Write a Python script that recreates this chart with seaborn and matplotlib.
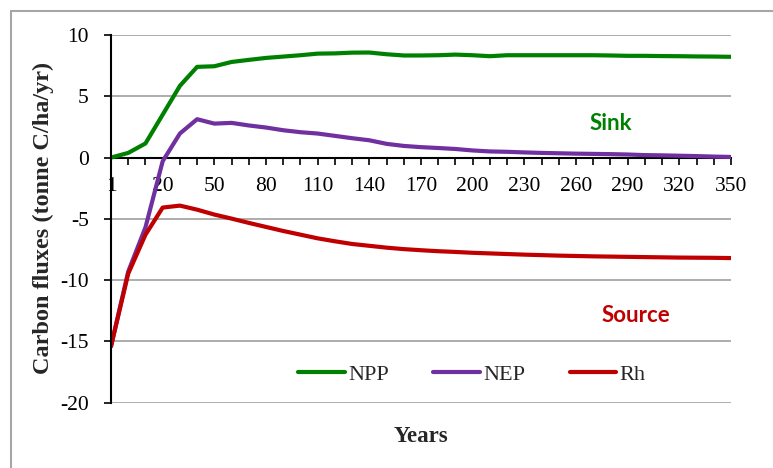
import numpy as np
import pandas as pd
import matplotlib
matplotlib.use("Agg")
import matplotlib.pyplot as plt
from matplotlib.patches import Rectangle
from matplotlib.ticker import FixedLocator, FixedFormatter
import seaborn as sns

years = [1, 5, 10, 20, 30, 40, 50, 60, 70, 80, 90, 100, 110, 120, 130, 140, 150,
         160, 170, 180, 190, 200, 210, 220, 230, 240, 250, 260, 270, 280, 290,
         300, 310, 320, 330, 340, 350]
npp = [0.0, 0.38, 1.15, 3.5, 5.85, 7.4, 7.45, 7.8, 7.97, 8.13, 8.24, 8.35, 8.48,
       8.5, 8.56, 8.57, 8.43, 8.33, 8.33, 8.35, 8.4, 8.35, 8.27, 8.35, 8.35,
       8.35, 8.35, 8.35, 8.35, 8.33, 8.3, 8.3, 8.28, 8.27, 8.25, 8.24, 8.22]
nep = [-15.4, -9.3, -5.7, -0.3, 1.96, 3.13, 2.77, 2.83, 2.62, 2.45, 2.23, 2.07,
       1.96, 1.77, 1.58, 1.41, 1.12, 0.95, 0.85, 0.78, 0.7, 0.58, 0.5, 0.47,
       0.42, 0.38, 0.35, 0.32, 0.3, 0.28, 0.25, 0.2, 0.18, 0.15, 0.12, 0.08, 0.05]
rh = [-15.4, -9.47, -6.3, -4.08, -3.92, -4.25, -4.65, -4.98, -5.33, -5.66, -5.99,
      -6.29, -6.59, -6.83, -7.05, -7.2, -7.35, -7.47, -7.56, -7.64, -7.7, -7.77,
      -7.82, -7.87, -7.92, -7.96, -8.0, -8.03, -8.06, -8.08, -8.1, -8.12, -8.14,
      -8.16, -8.17, -8.18, -8.2]
series_names = ["NPP", "NEP", "Rh"]
colors = {"NPP": "#008000", "NEP": "#7030A0", "Rh": "#C00000"}
y_ticks = [-20, -15, -10, -5, 0, 5, 10]

pos = list(range(len(years)))
df = pd.concat([
    pd.DataFrame({"pos": pos, "value": vals, "series": name})
    for name, vals in zip(series_names, [npp, nep, rh])
], ignore_index=True)

sns.set_style("white")
plt.rcParams["font.family"] = ["Liberation Serif", "DejaVu Serif"]

W, H = 773, 468
fig = plt.figure(figsize=(W / 100, H / 100), dpi=100)
ax = fig.add_axes([111 / W, 1 - 402.7 / H, (731 - 111) / W, (402.7 - 35) / H])

sns.lineplot(data=df, x="pos", y="value", hue="series", hue_order=series_names,
             palette=colors, linewidth=3.0, ax=ax, legend=False, sort=False)
for ln in ax.lines:
    ln.set_solid_capstyle("round")
    ln.set_solid_joinstyle("round")

ax.set_xlim(0, len(years) - 1)
ax.set_ylim(-20, 10)

# spines
for s in ["top", "right"]:
    ax.spines[s].set_visible(False)
ax.spines["bottom"].set_position(("data", 0))
ax.spines["bottom"].set_color("black")
ax.spines["bottom"].set_linewidth(1.5)
ax.spines["left"].set_color("black")
ax.spines["left"].set_linewidth(1.5)
ax.spines["bottom"].set_zorder(1.5)

# grid
ax.set_yticks(y_ticks)
ax.set_yticklabels([str(v) for v in y_ticks])
ax.yaxis.grid(True, color="#A0A0A0", linewidth=1.2)
ax.xaxis.grid(False)
ax.set_axisbelow(True)

# x ticks
major = pos[::3]
ax.xaxis.set_major_locator(FixedLocator(major))
ax.xaxis.set_major_formatter(FixedFormatter([str(years[i]) for i in major]))
ax.xaxis.set_minor_locator(FixedLocator(pos))
ax.tick_params(axis="x", which="both", direction="out", length=5, width=1.2,
               colors="black", bottom=True)
ax.tick_params(axis="x", which="major", labelsize=15.5, pad=9)
ax.tick_params(axis="y", direction="out", length=5, width=1.2, colors="black",
               labelsize=15.5, pad=11, left=True)

ax.set_xlabel("")
ax.set_ylabel("")
fig.text(43 / W, 1 - 218 / H, "Carbon fluxes (tonne C/ha/yr)", rotation=90,
         ha="center", va="center", fontsize=17.5, fontweight="bold")
fig.text(421 / W, 1 - 436 / H, "Years", ha="center", va="center",
         fontsize=16.5, fontweight="bold")

# annotations
ax.text(29.0, 2.82, "Sink", color="#008000", fontsize=16, fontweight="bold",
        family=["Lato", "DejaVu Sans"], ha="center", va="center")
ax.text(30.5, -12.87, "Source", color="#C00000", fontsize=16, fontweight="bold",
        family=["Lato", "DejaVu Sans"], ha="center", va="center")

# legend
handles = [plt.Line2D([], [], color=colors[n], lw=3, solid_capstyle="round")
           for n in series_names]
leg = ax.legend(handles, series_names, loc="center", bbox_to_anchor=(0.582, 0.076),
                ncol=3, frameon=False, fontsize=16, handlelength=2.1,
                handletextpad=0.15, columnspacing=2.0)

# figure border (top and left visible)
fig.patches.append(Rectangle((11 / W, -0.2), 1.5, (H - 11) / H + 0.2,
                             transform=fig.transFigure, fill=False,
                             edgecolor="#A6A6A6", linewidth=1.5))

fig.savefig("out.png", dpi=100)
